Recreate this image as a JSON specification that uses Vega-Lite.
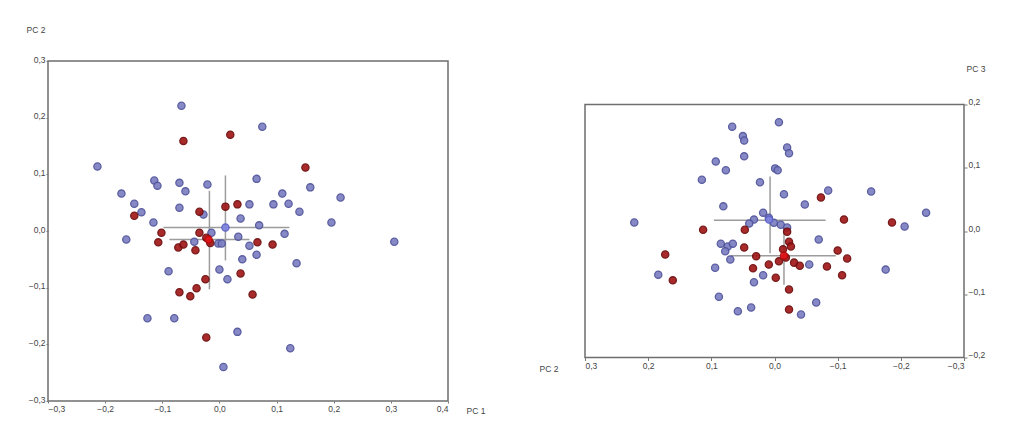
{
  "$schema": "https://vega.github.io/schema/vega-lite/v6.json",
  "background": "white",
  "padding": {"left": 25, "top": 24, "right": 5, "bottom": 5},
  "bounds": "flush",
  "center": true,
  "spacing": 137,
  "datasets": {
    "ptsL": [
      {"group":"A","pc1":-0.0665,"pc2":0.221},{"group":"A","pc1":0.075,"pc2":0.184},{"group":"A","pc1":-0.2135,"pc2":0.114},{"group":"A","pc1":-0.114,"pc2":0.089},{"group":"A","pc1":-0.1085,"pc2":0.080},{"group":"A","pc1":-0.070,"pc2":0.085},{"group":"A","pc1":-0.0595,"pc2":0.070},{"group":"A","pc1":-0.021,"pc2":0.082},{"group":"A","pc1":0.065,"pc2":0.092},{"group":"A","pc1":-0.1715,"pc2":0.066},{"group":"A","pc1":0.159,"pc2":0.077},{"group":"A","pc1":0.110,"pc2":0.066},{"group":"A","pc1":0.212,"pc2":0.059},{"group":"A","pc1":-0.149,"pc2":0.048},{"group":"A","pc1":-0.1365,"pc2":0.033},{"group":"A","pc1":-0.070,"pc2":0.041},{"group":"A","pc1":-0.028,"pc2":0.029},{"group":"A","pc1":0.0525,"pc2":0.047},{"group":"A","pc1":0.0945,"pc2":0.047},{"group":"A","pc1":0.121,"pc2":0.048},{"group":"A","pc1":0.140,"pc2":0.034},{"group":"A","pc1":-0.1155,"pc2":0.015},{"group":"A","pc1":0.037,"pc2":0.022},{"group":"A","pc1":0.196,"pc2":0.015},{"group":"A","pc1":0.0695,"pc2":0.010},{"group":"A","pc1":-0.163,"pc2":-0.015},{"group":"A","pc1":-0.044,"pc2":-0.019},{"group":"A","pc1":-0.014,"pc2":-0.003},{"group":"A","pc1":-0.002,"pc2":-0.022},{"group":"A","pc1":0.004,"pc2":-0.022},{"group":"A","pc1":0.033,"pc2":-0.010},{"group":"A","pc1":0.0525,"pc2":-0.026},{"group":"A","pc1":0.114,"pc2":-0.005},{"group":"A","pc1":0.306,"pc2":-0.019},{"group":"A","pc1":0.065,"pc2":-0.042},{"group":"A","pc1":0.040,"pc2":-0.050},{"group":"A","pc1":0.135,"pc2":-0.057},{"group":"A","pc1":-0.089,"pc2":-0.071},{"group":"A","pc1":0.0,"pc2":-0.068},{"group":"A","pc1":0.014,"pc2":-0.085},{"group":"A","pc1":-0.126,"pc2":-0.154},{"group":"A","pc1":-0.079,"pc2":-0.154},{"group":"A","pc1":0.0315,"pc2":-0.178},{"group":"A","pc1":0.124,"pc2":-0.207},{"group":"A","pc1":0.007,"pc2":-0.240},
      {"group":"B","pc1":-0.063,"pc2":0.159},{"group":"B","pc1":0.019,"pc2":0.170},{"group":"B","pc1":0.1505,"pc2":0.112},{"group":"B","pc1":-0.149,"pc2":0.027},{"group":"B","pc1":-0.035,"pc2":0.034},{"group":"B","pc1":0.0105,"pc2":0.043},{"group":"B","pc1":0.0315,"pc2":0.047},{"group":"B","pc1":-0.1015,"pc2":-0.003},{"group":"B","pc1":-0.107,"pc2":-0.020},{"group":"B","pc1":-0.072,"pc2":-0.029},{"group":"B","pc1":-0.063,"pc2":-0.024},{"group":"B","pc1":-0.042,"pc2":-0.034},{"group":"B","pc1":-0.035,"pc2":-0.003},{"group":"B","pc1":-0.023,"pc2":-0.012},{"group":"B","pc1":-0.016,"pc2":-0.021},{"group":"B","pc1":0.0665,"pc2":-0.020},{"group":"B","pc1":0.093,"pc2":-0.024},{"group":"B","pc1":0.037,"pc2":-0.075},{"group":"B","pc1":-0.0245,"pc2":-0.085},{"group":"B","pc1":-0.070,"pc2":-0.108},{"group":"B","pc1":-0.051,"pc2":-0.115},{"group":"B","pc1":-0.040,"pc2":-0.101},{"group":"B","pc1":0.058,"pc2":-0.112},{"group":"B","pc1":-0.023,"pc2":-0.188},
      {"group":"A mean","pc1":0.0105,"pc2":0.006},{"group":"B mean","pc1":-0.019,"pc2":-0.015}
    ],
    "ptsR": [
      {"group":"A","pc2":0.067,"pc3":0.165},{"group":"A","pc2":-0.007,"pc3":0.172},{"group":"A","pc2":0.050,"pc3":0.150},{"group":"A","pc2":0.048,"pc3":0.143},{"group":"A","pc2":-0.020,"pc3":0.132},{"group":"A","pc2":-0.023,"pc3":0.123},{"group":"A","pc2":0.048,"pc3":0.118},{"group":"A","pc2":0.093,"pc3":0.110},{"group":"A","pc2":0.077,"pc3":0.096},{"group":"A","pc2":-0.001,"pc3":0.099},{"group":"A","pc2":-0.005,"pc3":0.096},{"group":"A","pc2":0.115,"pc3":0.081},{"group":"A","pc2":0.023,"pc3":0.077},{"group":"A","pc2":-0.015,"pc3":0.058},{"group":"A","pc2":-0.085,"pc3":0.064},{"group":"A","pc2":-0.153,"pc3":0.0625},{"group":"A","pc2":0.081,"pc3":0.039},{"group":"A","pc2":-0.048,"pc3":0.042},{"group":"A","pc2":-0.240,"pc3":0.029},{"group":"A","pc2":0.222,"pc3":0.0135},{"group":"A","pc2":-0.206,"pc3":0.007},{"group":"A","pc2":0.0325,"pc3":0.018},{"group":"A","pc2":0.040,"pc3":0.012},{"group":"A","pc2":0.018,"pc3":0.029},{"group":"A","pc2":0.009,"pc3":0.021},{"group":"A","pc2":0.001,"pc3":0.013},{"group":"A","pc2":-0.010,"pc3":0.010},{"group":"A","pc2":-0.020,"pc3":0.0055},{"group":"A","pc2":-0.070,"pc3":-0.0135},{"group":"A","pc2":0.085,"pc3":-0.020},{"group":"A","pc2":0.074,"pc3":-0.0245},{"group":"A","pc2":0.066,"pc3":-0.020},{"group":"A","pc2":0.078,"pc3":-0.032},{"group":"A","pc2":0.070,"pc3":-0.045},{"group":"A","pc2":0.094,"pc3":-0.058},{"group":"A","pc2":0.184,"pc3":-0.069},{"group":"A","pc2":0.018,"pc3":-0.070},{"group":"A","pc2":0.0325,"pc3":-0.081},{"group":"A","pc2":0.088,"pc3":-0.104},{"group":"A","pc2":0.037,"pc3":-0.121},{"group":"A","pc2":0.058,"pc3":-0.127},{"group":"A","pc2":-0.042,"pc3":-0.132},{"group":"A","pc2":-0.066,"pc3":-0.113},{"group":"A","pc2":-0.055,"pc3":-0.053},{"group":"A","pc2":-0.176,"pc3":-0.061},
      {"group":"B","pc2":-0.0735,"pc3":0.053},{"group":"B","pc2":-0.110,"pc3":0.018},{"group":"B","pc2":-0.186,"pc3":0.0135},{"group":"B","pc2":0.113,"pc3":0.002},{"group":"B","pc2":0.047,"pc3":0.002},{"group":"B","pc2":-0.020,"pc3":-0.001},{"group":"B","pc2":-0.023,"pc3":-0.017},{"group":"B","pc2":0.173,"pc3":-0.037},{"group":"B","pc2":0.048,"pc3":-0.026},{"group":"B","pc2":0.029,"pc3":-0.040},{"group":"B","pc2":-0.100,"pc3":-0.031},{"group":"B","pc2":-0.115,"pc3":-0.0435},{"group":"B","pc2":-0.083,"pc3":-0.056},{"group":"B","pc2":-0.107,"pc3":-0.070},{"group":"B","pc2":0.161,"pc3":-0.078},{"group":"B","pc2":0.034,"pc3":-0.059},{"group":"B","pc2":-0.002,"pc3":-0.074},{"group":"B","pc2":0.009,"pc3":-0.053},{"group":"B","pc2":-0.023,"pc3":-0.0925},{"group":"B","pc2":-0.023,"pc3":-0.124},{"group":"B","pc2":-0.007,"pc3":-0.048},{"group":"B","pc2":-0.018,"pc3":-0.042},{"group":"B","pc2":-0.031,"pc3":-0.050},{"group":"B","pc2":-0.040,"pc3":-0.055},{"group":"B","pc2":-0.0135,"pc3":-0.029},{"group":"B","pc2":-0.026,"pc3":-0.0245},
      {"group":"A mean","pc2":0.0085,"pc3":0.018},{"group":"B mean","pc2":-0.015,"pc3":-0.039}
    ],
    "crossL": [
      {"group":"A","xa":-0.098,"xb":0.1225,"ya":0.006,"yb":0.006},
      {"group":"A","xa":0.0105,"xb":0.0105,"ya":0.098,"yb":-0.052},
      {"group":"B","xa":-0.0875,"xb":0.0525,"ya":-0.015,"yb":-0.015},
      {"group":"B","xa":-0.0175,"xb":-0.0175,"ya":0.071,"yb":-0.103}
    ],
    "crossR": [
      {"group":"A","xa":0.096,"xb":-0.081,"ya":0.017,"yb":0.017},
      {"group":"A","xa":0.007,"xb":0.007,"ya":0.086,"yb":-0.035},
      {"group":"B","xa":0.069,"xb":-0.097,"ya":-0.039,"yb":-0.039},
      {"group":"B","xa":-0.015,"xb":-0.015,"ya":0.006,"yb":-0.085}
    ]
  },
  "hconcat": [
    {
      "width": 400,
      "height": 340,
      "layer": [
        {
          "data": {"name": "crossL"},
          "mark": {"type": "rule", "color": "#9c9c9c", "strokeWidth": 1.5},
          "encoding": {
            "x": {"field": "xa", "type": "quantitative", "scale": {"domain": [-0.3, 0.4], "nice": false, "zero": false},
              "axis": {"values": [-0.3,-0.2,-0.1,0,0.1,0.2,0.3,0.4], "labelExpr": "replace(format(datum.value, '.1f'), '.', ',')", "title": "PC 1", "titleX": 418, "titleY": 9, "titleAlign": "left", "titleBaseline": "middle", "tickSize": 2, "labelPadding": 1}},
            "x2": {"field": "xb"},
            "y": {"field": "ya", "type": "quantitative", "scale": {"domain": [-0.3, 0.3], "nice": false, "zero": false},
              "axis": {"values": [-0.3,-0.2,-0.1,0,0.1,0.2,0.3], "labelExpr": "replace(format(datum.value, '.1f'), '.', ',')", "title": "PC 2", "titleAngle": 0, "titleX": -22, "titleY": -32, "titleAlign": "left", "titleBaseline": "middle", "tickSize": 2, "labelPadding": 1, "labelOffset": -2}},
            "y2": {"field": "yb"}
          }
        },
        {
          "data": {"name": "ptsL"},
          "mark": {"type": "circle", "opacity": 0.92, "strokeWidth": 1.3},
          "encoding": {
            "x": {"field": "pc1", "type": "quantitative"},
            "y": {"field": "pc2", "type": "quantitative"},
            "fill": {"field": "group", "type": "nominal", "scale": {"domain": ["A","B","A mean","B mean"], "range": ["#7c7fc2","#a21818","#7f84e0","#e3141a"]}, "legend": null},
            "stroke": {"field": "group", "type": "nominal", "scale": {"domain": ["A","B","A mean","B mean"], "range": ["#4e5299","#6d0a0a","#5a5fc4","#b00a0a"]}, "legend": null},
            "size": {"field": "group", "type": "nominal", "scale": {"domain": ["A","B","A mean","B mean"], "range": [52,52,130,100]}, "legend": null}
          }
        }
      ]
    },
    {
      "width": 379,
      "height": 253,
      "layer": [
        {
          "data": {"name": "crossR"},
          "mark": {"type": "rule", "color": "#9c9c9c", "strokeWidth": 1.5},
          "encoding": {
            "x": {"field": "xa", "type": "quantitative", "scale": {"domain": [-0.3, 0.3], "reverse": true, "nice": false, "zero": false},
              "axis": {"values": [-0.3,-0.2,-0.1,0,0.1,0.2,0.3], "labelExpr": "replace(format(datum.value, '.1f'), '.', ',')", "title": "PC 2", "titleX": -46, "titleY": 11, "titleAlign": "left", "titleBaseline": "middle", "tickSize": 3, "labelPadding": 1}},
            "x2": {"field": "xb"},
            "y": {"field": "ya", "type": "quantitative", "scale": {"domain": [-0.2, 0.2], "nice": false, "zero": false},
              "axis": {"orient": "right", "values": [-0.2,-0.1,0,0.1,0.2], "labelExpr": "replace(format(datum.value, '.1f'), '.', ',')", "title": "PC 3", "titleAngle": 0, "titleX": 2, "titleY": -36, "titleAlign": "left", "titleBaseline": "middle", "tickSize": 3, "labelPadding": 1, "labelOffset": -3}},
            "y2": {"field": "yb"}
          }
        },
        {
          "data": {"name": "ptsR"},
          "mark": {"type": "circle", "opacity": 0.92, "strokeWidth": 1.3},
          "encoding": {
            "x": {"field": "pc2", "type": "quantitative"},
            "y": {"field": "pc3", "type": "quantitative"},
            "fill": {"field": "group", "type": "nominal", "scale": {"domain": ["A","B","A mean","B mean"], "range": ["#7c7fc2","#a21818","#7f84e0","#e3141a"]}, "legend": null},
            "stroke": {"field": "group", "type": "nominal", "scale": {"domain": ["A","B","A mean","B mean"], "range": ["#4e5299","#6d0a0a","#5a5fc4","#b00a0a"]}, "legend": null},
            "size": {"field": "group", "type": "nominal", "scale": {"domain": ["A","B","A mean","B mean"], "range": [52,52,130,100]}, "legend": null}
          }
        }
      ]
    }
  ],
  "config": {
    "view": {"stroke": "#6e6e6e", "strokeWidth": 1.5},
    "axis": {"domain": false, "grid": false, "labelFont": "Liberation Sans", "labelFontSize": 8.5, "labelColor": "#444444", "tickColor": "#777777", "titleFont": "Liberation Sans", "titleFontSize": 8.5, "titleColor": "#444444", "titleFontWeight": "normal"}
  }
}
